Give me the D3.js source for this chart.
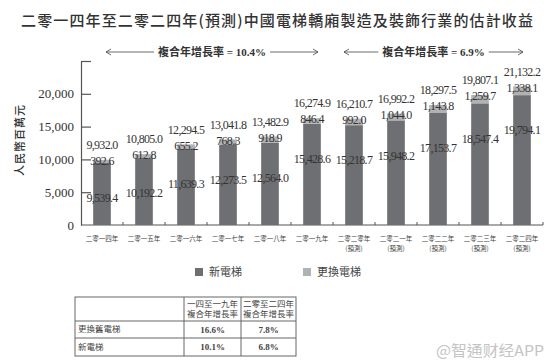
<!DOCTYPE html>
<html><head><meta charset="utf-8">
<script src="https://cdn.jsdelivr.net/npm/d3@7/dist/d3.min.js"></script>
<style>
body{margin:0;background:#fff;}
svg{display:block;}
</style></head>
<body>
<script>
const categories = ["二零一四年","二零一五年","二零一六年","二零一七年","二零一八年","二零一九年","二零二零年","二零二一年","二零二二年","二零二三年","二零二四年"];
const forecast = [false,false,false,false,false,false,true,true,true,true,true];
const newValues = [9539.4,10192.2,11639.3,12273.5,12564.0,15428.6,15218.7,15948.2,17153.7,18547.4,19794.1];
const replaceValues = [392.6,612.8,655.2,768.3,918.9,846.4,992.0,1044.0,1143.8,1259.7,1338.1];
const totalValues = [9932.0,10805.0,12294.5,13041.8,13482.9,16274.9,16210.7,16992.2,18297.5,19807.1,21132.2];
const yTicks = [0,5000,10000,15000,20000,25000];
const seriesNames = ["新電梯","更換電梯"];
const cagrLabels = ["複合年增長率 = 10.4%","複合年增長率 = 6.9%"];
const tableHeader = [["一四至一九年","複合年增長率"],["二零至二四年","複合年增長率"]];
const tableRows = ["更換舊電梯","新電梯"];
const tableValues = [["16.6%","7.8%"],["10.1%","6.8%"]];
const title = "二零一四年至二零二四年(預測)中國電梯轎廂製造及裝飾行業的估計收益";

const W=554,H=363;
const dark="#6e6f72", light="#b1b2b4", ink="#333";
const cjk="'Noto Sans CJK TC','Noto Sans CJK SC',sans-serif";
const serif="'Liberation Serif','DejaVu Serif',serif";

const svg=d3.select("body").append("svg").attr("width",W).attr("height",H);

// title
svg.append("text").attr("x",21).attr("y",26).attr("textLength",512).attr("lengthAdjust","spacing")
  .attr("font-family",cjk).attr("font-size",15).attr("font-weight",500).attr("fill",ink).text(title);

const x=d3.scaleBand().domain(categories).range([81,543]).paddingInner(0.58).paddingOuter(0.29);
const y=d3.scaleLinear().domain([0,25000]).range([225,61]);

// y axis
const yAxis=d3.axisLeft(y).tickValues(yTicks).tickSizeInner(-10).tickSizeOuter(0).tickPadding(7)
  .tickFormat(d=>d===25000?"":d3.format(",")(d));
const gy=svg.append("g").attr("transform","translate(81,0)").call(yAxis);
gy.selectAll("path,line").attr("stroke","#555").attr("stroke-width",1.2);
gy.selectAll("text").attr("font-family",serif).attr("font-size",13).attr("fill",ink);
gy.selectAll(".tick").filter(d=>d===0).select("line").remove();

// y title
svg.append("text").attr("transform","translate(24,140) rotate(-90)").attr("text-anchor","middle")
  .attr("font-family",cjk).attr("font-size",11).attr("font-weight",500).attr("letter-spacing",1).attr("fill",ink).text("人民幣百萬元");

// x axis
svg.append("line").attr("x1",x.range()[0]).attr("x2",x.range()[1]).attr("y1",y(0)).attr("y2",y(0))
  .attr("stroke","#555").attr("stroke-width",1.2);
const bounds=categories.map(c=>x(c)+x.bandwidth()+x.step()*x.paddingInner()/2);
svg.selectAll(".xt").data(bounds).join("line").attr("x1",d=>d).attr("x2",d=>d)
  .attr("y1",y(0)).attr("y2",y(0)-3).attr("stroke","#555");

const cat=svg.selectAll(".cat").data(categories).join("text")
  .attr("x",d=>x(d)+x.bandwidth()/2).attr("y",241).attr("text-anchor","middle")
  .attr("font-family",cjk).attr("font-size",6.5).attr("fill","#444");
cat.append("tspan").text(d=>d);
cat.filter((d,i)=>forecast[i]).append("tspan").attr("x",d=>x(d)+x.bandwidth()/2).attr("dy",10).text("(預測)");

// bars
const g=svg.append("g");
categories.forEach((c,i)=>{
  g.append("rect").attr("x",x(c)).attr("width",x.bandwidth()).attr("y",y(newValues[i])).attr("height",y(0)-y(newValues[i])).attr("fill",dark);
  g.append("rect").attr("x",x(c)).attr("width",x.bandwidth()).attr("y",y(newValues[i]+replaceValues[i])).attr("height",y(newValues[i])-y(newValues[i]+replaceValues[i])).attr("fill",light);
});
const fmt=d3.format(",.1f");
function lab(xx,yy,t){
  svg.append("text").attr("x",xx).attr("y",yy).attr("dy","0.35em").attr("text-anchor","middle")
   .attr("font-family",serif).attr("font-size",12).attr("letter-spacing",-0.7).attr("fill",ink).text(t);
}
categories.forEach((c,i)=>{
  const cx=x(c)+x.bandwidth()/2;
  lab(cx,y(totalValues[i])-15,fmt(totalValues[i]));
  lab(cx,y(newValues[i]+replaceValues[i])+1,fmt(replaceValues[i]));
  lab(cx,y(newValues[i])+35,fmt(newValues[i]));
});

// CAGR arrows
const spans=[[x(categories[0])-x.step()*x.paddingOuter()+25,bounds[5]-15],[bounds[5]+11,bounds[10]-20]];
spans.forEach((s,k)=>{
  const cxm=(s[0]+s[1])/2, yy=52;
  const parts=cagrLabels[k].split(" ");
  const t=svg.append("text").attr("x",cxm).attr("y",yy).attr("dy","0.35em").attr("text-anchor","middle").attr("fill",ink).attr("font-weight","bold").attr("font-size",11);
  t.append("tspan").attr("font-family",cjk).text(parts[0]);
  t.append("tspan").attr("font-family",serif).text(" "+parts.slice(1).join(" "));
  const w=t.node().getComputedTextLength();
  const l=cxm-w/2-4, r=cxm+w/2+4;
  svg.append("line").attr("x1",s[0]).attr("x2",l).attr("y1",yy).attr("y2",yy).attr("stroke","#444").attr("stroke-width",0.8);
  svg.append("line").attr("x1",r).attr("x2",s[1]).attr("y1",yy).attr("y2",yy).attr("stroke","#444").attr("stroke-width",0.8);
  svg.append("path").attr("d",`M${s[0]+5},${yy-3}L${s[0]},${yy}L${s[0]+5},${yy+3}`).attr("fill","none").attr("stroke","#444").attr("stroke-width",0.8);
  svg.append("path").attr("d",`M${s[1]-5},${yy-3}L${s[1]},${yy}L${s[1]-5},${yy+3}`).attr("fill","none").attr("stroke","#444").attr("stroke-width",0.8);
});

// legend
const legX=[195,303];
seriesNames.forEach((n,i)=>{
  svg.append("rect").attr("x",legX[i]).attr("y",268).attr("width",8).attr("height",8).attr("fill",i?light:dark);
  svg.append("text").attr("x",legX[i]+14).attr("y",272).attr("dy","0.35em").attr("font-family",cjk).attr("font-size",11).attr("fill","#444").text(n);
});

// table
const colX=[75,184,241,296], rowY=[297,321,338,356];
const tg=svg.append("g").attr("stroke","#666").attr("stroke-width",1);
tg.append("rect").attr("x",colX[0]).attr("y",rowY[0]).attr("width",colX[3]-colX[0]).attr("height",rowY[3]-rowY[0]).attr("fill","none");
[1,2].forEach(j=>tg.append("line").attr("x1",colX[j]).attr("x2",colX[j]).attr("y1",rowY[0]).attr("y2",rowY[3]));
[1,2].forEach(j=>tg.append("line").attr("x1",colX[0]).attr("x2",colX[3]).attr("y1",rowY[j]).attr("y2",rowY[j]));
tableHeader.forEach((h,j)=>{
  const cx=(colX[j+1]+colX[j+2])/2;
  h.forEach((line,k)=>svg.append("text").attr("x",cx).attr("y",304+k*10.5).attr("dy","0.35em").attr("text-anchor","middle")
    .attr("font-family",cjk).attr("font-size",8.5).attr("fill","#444").text(line));
});
tableRows.forEach((r,i)=>{
  const cy=(rowY[i+1]+rowY[i+2])/2;
  svg.append("text").attr("x",78).attr("y",cy).attr("dy","0.35em").attr("font-family",cjk).attr("font-size",8.5).attr("fill","#444").text(r);
  tableValues[i].forEach((v,j)=>svg.append("text").attr("x",(colX[j+1]+colX[j+2])/2).attr("y",cy).attr("dy","0.35em")
    .attr("text-anchor","middle").attr("font-family",serif).attr("font-size",9).attr("font-weight","bold").attr("fill","#444").text(v));
});

// watermark
svg.append("text").attr("x",436).attr("y",351).attr("dy","0.35em").attr("textLength",108).attr("lengthAdjust","spacingAndGlyphs")
  .attr("font-family",cjk).attr("font-size",15).attr("fill","#c4c4c4").text("@智通财经APP");
</script>
</body></html>
